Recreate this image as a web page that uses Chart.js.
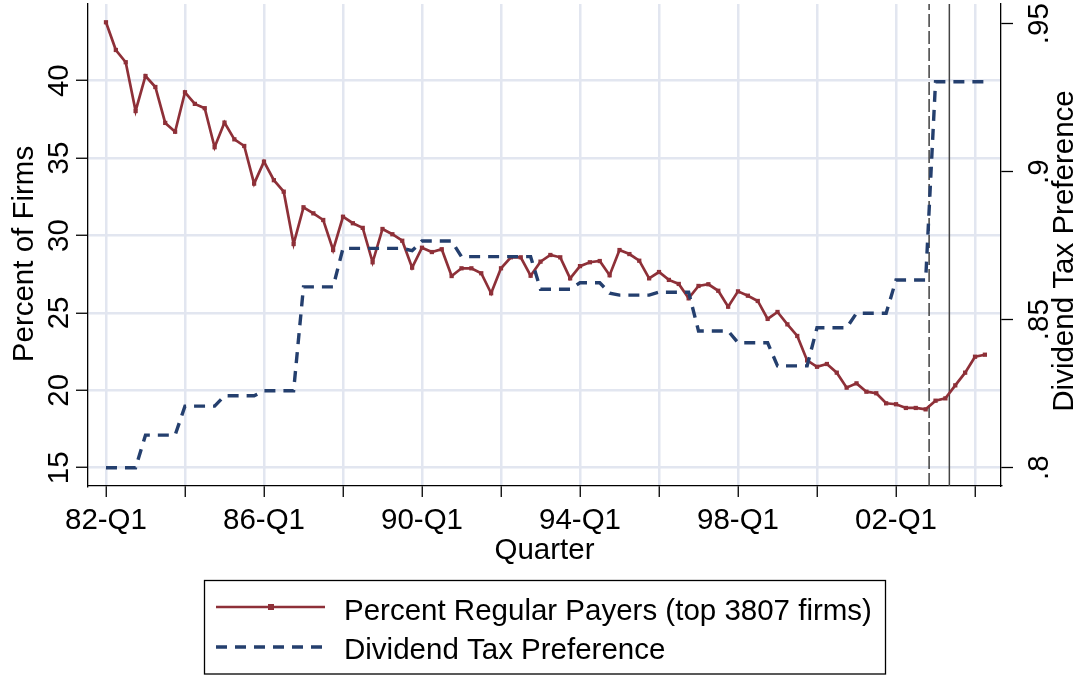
<!DOCTYPE html>
<html>
<head>
<meta charset="utf-8">
<script src="https://cdn.jsdelivr.net/npm/chart.js@4.4.0/dist/chart.umd.min.js"></script>
<style>
  html, body { margin: 0; padding: 0; background: #fff; }
  canvas { display: block; }
</style>
</head>
<body>
<canvas id="myChart" width="1080" height="675"></canvas>
<script>
// quarterly series, 82-Q1 .. 04-Q2 (index 0 = 82-Q1)
const payers = [
  43.77, 41.98, 41.19, 38.04, 40.30, 39.59, 37.27, 36.70, 39.25, 38.50,
  38.22, 35.70, 37.29, 36.21, 35.78, 33.35, 34.77, 33.57, 32.83, 29.45,
  31.82, 31.43, 31.00, 29.06, 31.21, 30.79, 30.49, 28.27, 30.42, 30.08,
  29.66, 27.92, 29.21, 28.93, 29.11, 27.38, 27.88, 27.88, 27.56, 26.27,
  27.88, 28.59, 28.59, 27.40, 28.31, 28.74, 28.59, 27.23, 28.02, 28.27,
  28.35, 27.43, 29.06, 28.80, 28.37, 27.23, 27.64, 27.13, 26.87, 25.94,
  26.74, 26.85, 26.43, 25.40, 26.39, 26.11, 25.77, 24.61, 25.06, 24.26,
  23.51, 21.93, 21.52, 21.70, 21.14, 20.17, 20.45, 19.91, 19.81, 19.16,
  19.10, 18.86, 18.86, 18.77, 19.33, 19.48, 20.32, 21.14, 22.17, 22.30
]
const taxPref = [
  .800, .800, .800, .800, .811, .811, .811, .811, .8208, .8208,
  .8208, .8208, .8243, .8243, .8243, .8243, .8260, .8260, .8260, .8260,
  .8611, .8611, .8611, .8611, .8741, .8741, .8741, .8741, .8741, .8741,
  .8741, .8733, .8766, .8766, .8766, .8766, .8713, .8713, .8713, .8713,
  .8713, .8713, .8713, .8713, .8603, .8603, .8603, .8603, .8625, .8625,
  .8625, .8590, .8583, .8583, .8583, .8583, .8593, .8593, .8593, .8593,
  .8462, .8462, .8462, .8462, .8422, .8422, .8422, .8422, .8344, .8344,
  .8344, .8344, .8473, .8473, .8473, .8473, .8522, .8522, .8522, .8522,
  .8634, .8634, .8634, .8634, .9304, .9304, .9304, .9304, .9304, .9304
]
const xGridQuarters = [0, 8, 16, 24, 32, 40, 48, 56, 64, 72, 80, 88]
const xLabelQuarters = [0, 16, 32, 48, 64, 80]
const xTickLabels = ['82-Q1', '86-Q1', '90-Q1', '94-Q1', '98-Q1', '02-Q1']
const leftTicks = [15, 20, 25, 30, 35, 40]
const rightTicks = [.8, .85, .9, .95]
const rightTickLabels = ['.8', '.85', '.9', '.95']
const eventLines = [83.35, 85.4]

const RED = '#8e3038'
const BLUE = '#243f6e'
const GRID = '#e2e6f0'
const FONT = '"Liberation Sans", Arial, Helvetica, sans-serif'
const FS = 29.5

const yMin = 13.82, yMax = 44.95

function rotText(c, t, x, y) {
  c.save()
  c.translate(x, y)
  c.rotate(-Math.PI / 2)
  c.fillText(t, 0, 0)
  c.restore()
}

// y tick labels, y titles and the boxed legend are drawn by hand (Stata style)
const stataText = {
  id: 'stataText',
  afterDraw(chart) {
    const c = chart.ctx
    const yl = chart.scales.y
    const yr = chart.scales.y2
    c.save()
    c.fillStyle = '#000'
    c.font = FS + 'px ' + FONT
    c.textAlign = 'center'
    c.textBaseline = 'alphabetic'
    leftTicks.forEach(v => rotText(c, String(v), 68, yl.getPixelForValue(v)))
    rightTicks.forEach((v, i) => rotText(c, rightTickLabels[i], 1048, yr.getPixelForValue(v)))
    rotText(c, 'Percent of Firms', 33, 254)
    rotText(c, 'Dividend Tax Preference', 1073, 251)

    // legend
    c.strokeStyle = '#000'
    c.lineWidth = 1.3
    c.strokeRect(204.5, 580.5, 681, 93.5)
    const ds = chart.data.datasets
    const rows = [[ds[0], 607, 620], [ds[1], 647, 659]]
    for (const [d, ly, by] of rows) {
      c.save()
      c.strokeStyle = d.borderColor
      c.lineWidth = d.borderWidth
      c.setLineDash(d.borderDash || [])
      c.beginPath()
      c.moveTo(216, ly)
      c.lineTo(325, ly)
      c.stroke()
      if (d.pointRadius) {
        c.fillStyle = d.borderColor
        c.fillRect(271 - 3, ly - 3, 6, 6)
      }
      c.restore()
      c.textAlign = 'left'
      c.fillText(d.label, 344, by)
    }
    c.restore()
  }
}

const ctx = document.getElementById('myChart').getContext('2d')
const myChart = new Chart(ctx, {
  type: 'line',
  data: {
    datasets: [{
      label: 'Percent Regular Payers (top 3807 firms)',
      data: payers.map((v, i) => ({ x: i, y: v })),
      yAxisID: 'y',
      borderColor: RED,
      backgroundColor: RED,
      borderWidth: 2.7,
      pointStyle: 'rect',
      pointRadius: 3,
      pointBorderWidth: 0,
      tension: 0,
      order: 2
    }, {
      label: 'Dividend Tax Preference',
      data: taxPref.map((v, i) => ({ x: i, y: v })),
      yAxisID: 'y2',
      borderColor: BLUE,
      borderWidth: 3.4,
      borderDash: [11, 8],
      pointRadius: 0,
      tension: 0,
      order: 1
    }, {
      label: 'event1',
      data: [{ x: eventLines[0], y: yMin }, { x: eventLines[0], y: yMax }],
      yAxisID: 'y',
      borderColor: '#333',
      borderWidth: 1.4,
      borderDash: [13, 4],
      pointRadius: 0,
      order: 3
    }, {
      label: 'event2',
      data: [{ x: eventLines[1], y: yMin }, { x: eventLines[1], y: yMax }],
      yAxisID: 'y',
      borderColor: '#444',
      borderWidth: 1.5,
      pointRadius: 0,
      order: 3
    }]
  },
  options: {
    responsive: false,
    animation: false,
    devicePixelRatio: 1,
    layout: { padding: { top: 4, bottom: 106, left: 0, right: 0 } },
    plugins: {
      legend: { display: false },
      tooltip: { enabled: false }
    },
    scales: {
      x: {
        type: 'linear',
        min: -1.82,
        max: 90.63,
        afterBuildTicks: s => { s.ticks = xGridQuarters.map(v => ({ value: v })) },
        afterFit: s => { s.height = 83 },
        grid: { color: GRID, lineWidth: 2.5, tickLength: 11, tickColor: '#000', tickWidth: 1.3 },
        border: { color: '#000', width: 1.3 },
        ticks: {
          autoSkip: false,
          maxRotation: 0,
          padding: 6,
          color: '#000',
          font: { family: FONT, size: FS },
          callback: v => {
            const k = xLabelQuarters.indexOf(v)
            return k >= 0 ? xTickLabels[k] : ''
          }
        },
        title: { display: true, text: 'Quarter', color: '#000', font: { family: FONT, size: FS }, padding: 0 }
      },
      y: {
        position: 'left',
        min: yMin,
        max: yMax,
        afterBuildTicks: s => { s.ticks = leftTicks.map(v => ({ value: v })) },
        afterFit: s => { s.width = 88 },
        grid: { color: GRID, lineWidth: 2.5, tickLength: 12, tickColor: '#000', tickWidth: 1.3 },
        border: { color: '#000', width: 1.3 },
        ticks: { display: false }
      },
      y2: {
        position: 'right',
        min: 0.79382,
        max: 0.95666,
        afterBuildTicks: s => { s.ticks = rightTicks.map(v => ({ value: v })) },
        afterFit: s => { s.width = 79 },
        grid: { drawOnChartArea: false, tickLength: 12, tickColor: '#000', tickWidth: 1.3 },
        border: { color: '#000', width: 1.3 },
        ticks: { display: false }
      }
    }
  },
  plugins: [stataText]
})
</script>
</body>
</html>
